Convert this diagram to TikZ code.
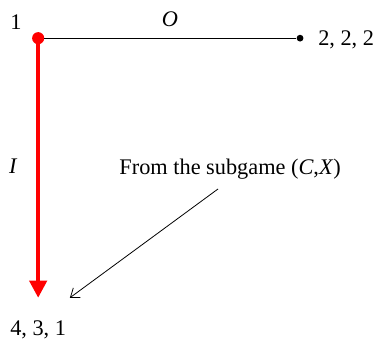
\documentclass[tikz,border=0pt]{standalone}
\usepackage{fontspec}
\setmainfont{Liberation Serif}
\usepackage{tikz}
\usetikzlibrary{arrows.meta,positioning}

\begin{document}
\begin{tikzpicture}[
    gamefont/.style={font=\fontsize{16.8}{20}\selectfont},
    rootdot/.style={circle, fill=red, inner sep=0pt, minimum size=0.32cm},
    leafdot/.style={circle, fill=black, inner sep=0pt, minimum size=0.18cm},
    move/.style={line width=0.8pt},
    chosen/.style={line width=3pt, red, -{Triangle[length=13pt, width=13pt]}},
    pointer/.style={line width=0.6pt, -{Straight Barb[length=6pt, width=9pt]}},
    payoff/.style={gamefont, inner sep=0pt}
]
\useasboundingbox (0,0) rectangle (9.95,-9.05);

%% Decision node of player 1 and its two moves
\node[rootdot] (p1) at (1.01,-1.01) {};
\node[leafdot] (out) at (7.94,-1.01) {};
\coordinate (in) at (1.01,-7.88);
\draw[move] (p1) -- (out);
\draw[chosen] (p1.center) -- (in);

%% Labels
\node[payoff] (pl) at (0.42,-0.58) {1};
\node[payoff] (lo) at (4.50,-0.50) {\itshape O};
\node[payoff] (li) at (0.34,-4.39) {\itshape I};
\node[payoff] (pay1) at (9.16,-1.06) {2, 2, 2};
\node[payoff] (pay2) at (1.01,-8.73) {4, 3, 1};

%% Note on the subgame
\node[payoff] (note) at (6.09,-4.47) {From the subgame (\textit{C},\textit{X})};
\coordinate (nstart) at (5.77,-5.00);
\coordinate (nend) at (1.85,-7.88);
\draw[pointer] (nstart) -- (nend);

\end{tikzpicture}
\end{document}
